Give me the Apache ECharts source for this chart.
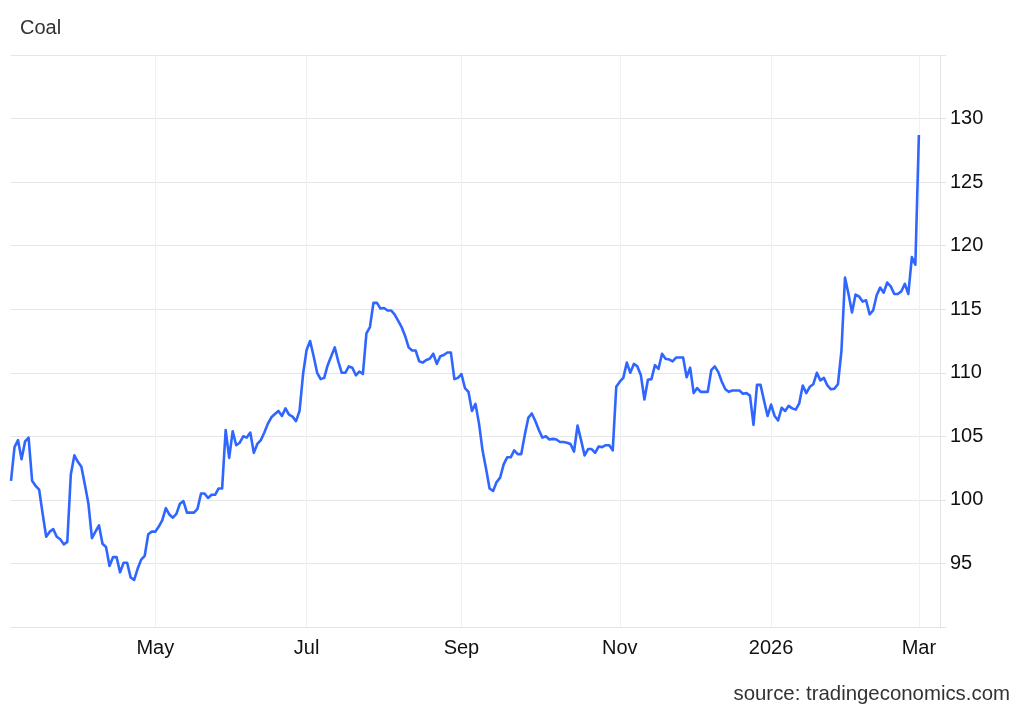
<!DOCTYPE html>
<html>
<head>
<meta charset="utf-8">
<script src="https://cdn.jsdelivr.net/npm/echarts@6/dist/echarts.min.js"></script>
<style>
  html, body { margin: 0; padding: 0; background: #ffffff; }
  #chart { width: 1024px; height: 710px; }
</style>
</head>
<body>
<div id="chart"></div>
<script>
// Axis range: trading weekdays from first to last category
const startDate = '2025-03-05';
const endDate = '2026-03-10';

// X tick labels (first weekday of the labelled months)
const xTickDates = ['2025-05-01', '2025-07-01', '2025-09-01', '2025-11-03', '2026-01-01', '2026-03-02'];
const xTickLabels = ['May', 'Jul', 'Sep', 'Nov', '2026', 'Mar'];

// Y axis
const yMin = 90, yMax = 135, yStep = 5;

// Coal price, one value per weekday starting at startDate (USD/t)
const coalPrices = [
  101.5, 104.15, 104.7, 103.2, 104.6, 104.9, 101.5, 101.1, 100.8, 98.9,
  97.1, 97.5, 97.7, 97.1, 96.9, 96.5, 96.7, 102.0, 103.5, 103.0,
  102.6, 101.2, 99.7, 97.0, 97.5, 98.0, 96.55, 96.3, 94.8, 95.5,
  95.5, 94.3, 95.05, 95.05, 93.9, 93.7, 94.6, 95.3, 95.6, 97.3,
  97.5, 97.5, 97.9, 98.4, 99.35, 98.85, 98.6, 98.9, 99.7, 99.9,
  99.0, 99.0, 99.0, 99.3, 100.5, 100.5, 100.15, 100.4, 100.4, 100.9,
  100.9, 105.5, 103.3, 105.4, 104.3, 104.5, 105.0, 104.9, 105.3, 103.7,
  104.4, 104.7, 105.3, 106.0, 106.5, 106.75, 107.0, 106.6, 107.2, 106.7,
  106.55, 106.2, 107.0, 109.9, 111.8, 112.5, 111.3, 110.0, 109.5, 109.6,
  110.6, 111.3, 112.0, 110.9, 110.0, 110.0, 110.5, 110.4, 109.8, 110.1,
  109.9, 113.1, 113.6, 115.5, 115.5, 115.05, 115.1, 114.9, 114.9, 114.6,
  114.1, 113.6, 112.9, 112.0, 111.75, 111.75, 110.9, 110.8, 111.0, 111.1,
  111.5, 110.7, 111.3, 111.4, 111.6, 111.6, 109.5, 109.6, 109.9, 108.8,
  108.5, 107.0, 107.55, 106.0, 103.9, 102.45, 100.9, 100.7, 101.4, 101.75,
  102.8, 103.35, 103.35, 103.9, 103.6, 103.6, 105.1, 106.45, 106.8, 106.2,
  105.5, 104.9, 105.0, 104.75, 104.8, 104.75, 104.55, 104.55, 104.5, 104.4,
  103.8, 105.85, 104.7, 103.5, 104.0, 104.0, 103.7, 104.2, 104.15, 104.3,
  104.3, 103.9, 108.9, 109.3, 109.6, 110.8, 110.0, 110.7, 110.5, 109.8,
  107.9, 109.45, 109.5, 110.6, 110.3, 111.5, 111.1, 111.05, 110.9, 111.2,
  111.2, 111.2, 109.65, 110.4, 108.4, 108.8, 108.5, 108.5, 108.5, 110.2,
  110.5, 110.05, 109.3, 108.7, 108.5, 108.6, 108.6, 108.6, 108.35, 108.4,
  108.2, 105.9, 109.05, 109.05, 107.8, 106.6, 107.5, 106.6, 106.25, 107.25,
  107.0, 107.4, 107.2, 107.1, 107.6, 109.0, 108.4, 108.9, 109.1, 110.0,
  109.4, 109.6, 109.0, 108.7, 108.75, 109.1, 111.75, 117.5, 116.2, 114.75,
  116.15, 116.0, 115.6, 115.7, 114.6, 114.9, 116.1, 116.7, 116.3, 117.1,
  116.8, 116.2, 116.2, 116.4, 117.0, 116.2, 119.1, 118.5, 128.7
];

function weekdayList(a, b) {
  const out = [];
  const d = new Date(a + 'T00:00:00Z');
  const e = new Date(b + 'T00:00:00Z');
  while (d <= e) {
    const wd = d.getUTCDay();
    if (wd !== 0 && wd !== 6) out.push(d.toISOString().slice(0, 10));
    d.setUTCDate(d.getUTCDate() + 1);
  }
  return out;
}
const categories = weekdayList(startDate, endDate);

const FONT = '"Liberation Sans", Arial, sans-serif';
const chart = echarts.init(document.getElementById('chart'), null, { renderer: 'canvas' });

const isTick = (idx, value) => xTickDates.indexOf(value) !== -1;

chart.setOption({
  animation: false,
  backgroundColor: '#ffffff',
  title: {
    text: 'Coal',
    left: 15, top: 13,
    textStyle: { fontFamily: FONT, fontSize: 20, fontWeight: 'normal', color: '#333333' }
  },
  graphic: [{
    type: 'text',
    right: 14, top: 684,
    style: { text: 'source: tradingeconomics.com', font: '20.4px ' + FONT, fill: '#333333' }
  }],
  grid: { left: 11, right: 84, top: 55, bottom: 83, containLabel: false, outerBoundsMode: 'none' },
  xAxis: {
    type: 'category',
    data: categories,
    boundaryGap: false,
    axisLine: { show: true, lineStyle: { color: '#e3e3e3', width: 1 } },
    axisTick: { show: false },
    axisLabel: {
      interval: isTick,
      formatter: (v) => { const k = xTickDates.indexOf(v); return k === -1 ? '' : xTickLabels[k]; },
      fontFamily: FONT, fontSize: 20, color: '#111111', margin: 11
    },
    splitLine: { show: true, interval: isTick, lineStyle: { color: '#edf0f5', width: 1 } }
  },
  yAxis: {
    type: 'value',
    position: 'right',
    min: yMin, max: yMax, interval: yStep,
    axisLine: { show: true, lineStyle: { color: '#e3e3e3', width: 1 } },
    axisTick: { show: true, length: 6, lineStyle: { color: '#e3e3e3' } },
    axisLabel: {
      formatter: (v) => (v === yMin || v === yMax) ? '' : String(v),
      fontFamily: FONT, fontSize: 20, color: '#111111', margin: 10
    },
    splitLine: { show: true, lineStyle: { color: '#e6e6e6', width: 1 } }
  },
  series: [{
    type: 'line',
    data: coalPrices,
    showSymbol: false,
    symbol: 'none',
    smooth: false,
    lineStyle: { color: '#2f66ff', width: 2.6, join: 'round' },
    itemStyle: { color: '#2f66ff' }
  }]
});
</script>
</body>
</html>
